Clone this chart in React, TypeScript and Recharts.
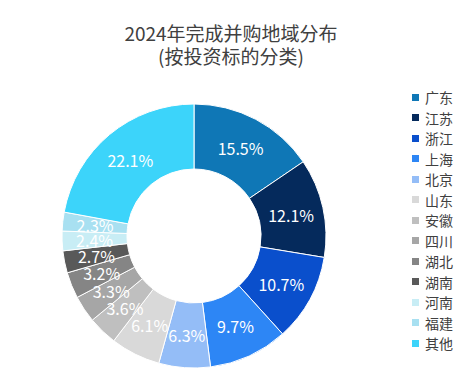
import React from "react";
import { PieChart, Pie, Cell, Legend } from "recharts";

// 2024年完成并购地域分布 (按投资标的分类), share in %
const regions = [
  "广东", "江苏", "浙江", "上海", "北京", "山东", "安徽",
  "四川", "湖北", "湖南", "河南", "福建", "其他",
];
const shares = [15.5, 12.1, 10.7, 9.7, 6.3, 6.1, 3.6, 3.3, 3.2, 2.7, 2.4, 2.3, 22.1];
const colors = [
  "#0f77b6", "#052a5c", "#0a4fcc", "#2d86f5", "#94bdf7", "#d9d9d9", "#bfbfbf",
  "#a6a6a6", "#858585", "#595959", "#c8edf5", "#a8e0f1", "#3cd4fa",
];

const data = regions.map((name, i) => ({ name, value: shares[i] }));

const FONT = "'Noto Sans CJK SC', 'Noto Sans', sans-serif";
const RAD = Math.PI / 180;

const renderLabel = (props: any) => {
  const { cx, cy, midAngle, innerRadius, outerRadius, value } = props;
  const r = (innerRadius + outerRadius) / 2;
  const x = cx + r * Math.cos(-midAngle * RAD);
  const y = cy + r * Math.sin(-midAngle * RAD);
  return (
    <text
      x={x}
      y={y}
      fill="#fff"
      fontSize={16}
      fontFamily={FONT}
      textAnchor="middle"
      dominantBaseline="central"
    >
      {value.toFixed(1)}%
    </text>
  );
};

const renderLegend = () => (
  <ul style={{ listStyle: "none", margin: 0, padding: 0, fontFamily: FONT }}>
    {regions.map((name, i) => (
      <li
        key={name}
        style={{ height: 20.5, display: "flex", alignItems: "center", fontSize: 14, color: "#404040" }}
      >
        <span
          style={{ display: "inline-block", width: 7, height: 7, background: colors[i], marginRight: 6 }}
        />
        {name}
      </li>
    ))}
  </ul>
);

export default function App() {
  return (
    <div style={{ position: "absolute", left: 0, top: 0, width: 476, height: 378, background: "#fff" }}>
      <PieChart width={476} height={378} margin={{ top: 0, right: 0, bottom: 0, left: 0 }}>
        <text x={231} y={32} textAnchor="middle" dominantBaseline="central" fontSize={19} fill="#404040" fontFamily={FONT}>
          2024年完成并购地域分布
        </text>
        <text x={231} y={55} textAnchor="middle" dominantBaseline="central" fontSize={19} fill="#404040" fontFamily={FONT}>
          (按投资标的分类)
        </text>
        <Pie
          data={data}
          dataKey="value"
          nameKey="name"
          cx={194}
          cy={236}
          innerRadius={67}
          outerRadius={132}
          startAngle={90}
          endAngle={-270}
          stroke="#fff"
          strokeWidth={1}
          label={renderLabel}
          labelLine={false}
          isAnimationActive={false}
        >
          {data.map((d, i) => (
            <Cell key={d.name} fill={colors[i]} />
          ))}
        </Pie>
        <Legend
          layout="vertical"
          verticalAlign="top"
          align="right"
          content={renderLegend}
          wrapperStyle={{ left: 412, top: 87, width: 60 }}
        />
      </PieChart>
    </div>
  );
}
